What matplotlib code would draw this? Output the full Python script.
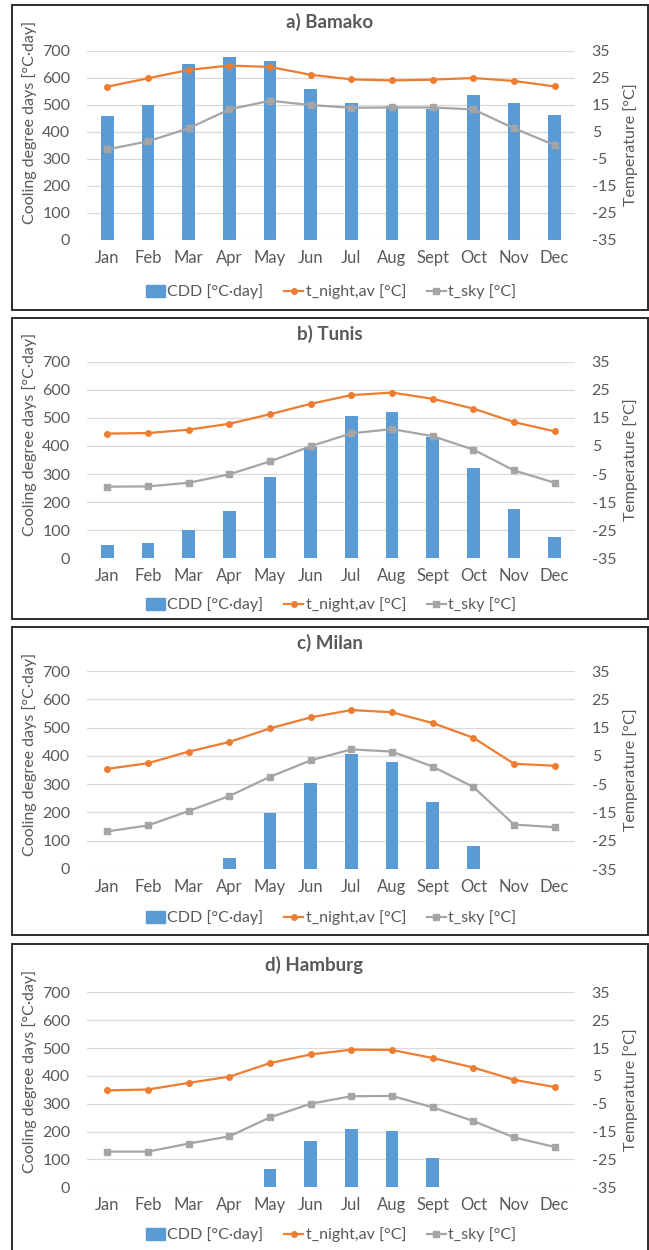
import matplotlib.pyplot as plt
from matplotlib.patches import Rectangle, Patch
from matplotlib.lines import Line2D

plt.rcParams['font.family'] = ['Lato', 'DejaVu Sans']
plt.rcParams['axes.unicode_minus'] = False

months = ['Jan', 'Feb', 'Mar', 'Apr', 'May', 'Jun', 'Jul', 'Aug', 'Sept', 'Oct', 'Nov', 'Dec']
titles = ['a) Bamako', 'b) Tunis', 'c) Milan', 'd) Hamburg']

# cooling degree days [°C·day]
cdd_bamako = [460, 501, 650, 675, 663, 560, 508, 494, 485, 536, 508, 462]
cdd_tunis = [46, 56, 100, 170, 288, 397, 507, 520, 433, 323, 176, 76]
cdd_milan = [0, 0, 0, 40, 197, 303, 405, 378, 238, 80, 0, 0]
cdd_hamburg = [0, 0, 0, 0, 67, 165, 209, 203, 104, 0, 0, 0]

# average night temperature [°C]
tn_bamako = [21.7, 24.8, 27.9, 29.5, 29.0, 26.1, 24.4, 24.0, 24.3, 24.9, 23.8, 21.8]
tn_tunis = [9.4, 9.6, 10.8, 12.9, 16.3, 20.0, 23.1, 24.0, 21.8, 18.3, 13.5, 10.2]
tn_milan = [0.4, 2.4, 6.5, 9.9, 14.7, 18.6, 21.2, 20.4, 16.6, 11.4, 2.2, 1.5]
tn_hamburg = [-0.2, 0.1, 2.5, 4.7, 9.6, 12.7, 14.4, 14.3, 11.4, 8.0, 3.6, 1.0]

# sky temperature [°C]
ts_bamako = [-1.5, 1.5, 6.3, 13.3, 16.5, 14.9, 13.9, 14.0, 14.0, 13.3, 6.3, 0.1]
ts_tunis = [-9.5, -9.4, -8.1, -5.1, -0.5, 4.9, 9.5, 11.0, 8.5, 3.7, -3.7, -8.1]
ts_milan = [-21.7, -19.6, -14.5, -9.2, -2.4, 3.4, 7.3, 6.5, 1.2, -6.0, -19.3, -20.2]
ts_hamburg = [-22.2, -22.2, -19.3, -16.7, -9.9, -5.0, -2.3, -2.2, -6.3, -11.2, -17.1, -20.5]

cdd_all = [cdd_bamako, cdd_tunis, cdd_milan, cdd_hamburg]
tn_all = [tn_bamako, tn_tunis, tn_milan, tn_hamburg]
ts_all = [ts_bamako, ts_tunis, ts_milan, ts_hamburg]

BLUE = '#5B9BD5'
ORANGE = '#ED7D31'
GRAY = '#A5A5A5'
TXT = '#595959'
GRID = '#D9D9D9'

W, H = 649, 1250
fig = plt.figure(figsize=(W / 100, H / 100), dpi=100)


def fx(px):
    return px / W


def fy(py):
    return 1 - py / H


# layout in pixels: box top/bottom, plot top/bottom, title y, legend y, label centres
boxes = [(5, 310), (318, 619), (627, 935), (944, 1262)]
plots = [(50.7, 240), (361.7, 558.3), (671, 869), (992.3, 1187.3)]
title_pos = [(330, 22), (330, 334), (330, 643), (314, 965)]
legend_y = [292, 605, 918, 1235]
ylab_left = [122, 434, 754, 1071]
ylab_right = [145, 460, 770, 1090]

plot_left, plot_right = 87, 575
x = list(range(12))

for i in range(4):
    b0, b1 = boxes[i]
    fig.patches.append(Rectangle((fx(12), fy(b1)), fx(648) - fx(12), fy(b0) - fy(b1),
                                 transform=fig.transFigure, fill=False,
                                 edgecolor='#2b2b2b', linewidth=1.4))

    top, bot = plots[i]
    ax = fig.add_axes([fx(plot_left), fy(bot), (plot_right - plot_left) / W, (bot - top) / H])
    ax.bar(x, cdd_all[i], width=0.31, color=BLUE, zorder=2)
    ax.set_xlim(-0.5, 11.5)
    ax.set_ylim(0, 700)
    ax.set_yticks(range(0, 701, 100))
    ax.set_xticks(x)
    ax.set_xticklabels(months)
    ax.set_axisbelow(True)
    ax.grid(axis='y', color=GRID, linewidth=0.9)
    for s in ax.spines.values():
        s.set_visible(False)
    ax.tick_params(axis='both', length=0, colors=TXT, labelsize=11.5)
    ax.tick_params(axis='y', pad=12)
    ax.tick_params(axis='x', pad=7, labelsize=12)

    ax2 = ax.twinx()
    ax2.plot(x, tn_all[i], color=ORANGE, marker='o', markersize=4, linewidth=1.6)
    ax2.plot(x, ts_all[i], color=GRAY, marker='s', markersize=4, linewidth=1.6)
    ax2.set_ylim(-35, 35)
    ax2.set_yticks(range(-35, 36, 10))
    for s in ax2.spines.values():
        s.set_visible(False)
    ax2.tick_params(axis='y', length=0, colors=TXT, labelsize=11.5, pad=12)

    tx, ty = title_pos[i]
    fig.text(fx(tx), fy(ty), titles[i], ha='center', va='center',
             fontsize=13.5, fontweight='bold', color=TXT)
    fig.text(fx(30), fy(ylab_left[i]), 'Cooling degree days [°C·day]', rotation=90,
             ha='center', va='center', fontsize=11.5, color=TXT)
    fig.text(fx(631), fy(ylab_right[i]), 'Temperature [°C]', rotation=90,
             ha='center', va='center', fontsize=11.5, color=TXT)

    handles = [Patch(color=BLUE),
               Line2D([], [], color=ORANGE, marker='o', markersize=4, linewidth=1.6),
               Line2D([], [], color=GRAY, marker='s', markersize=4, linewidth=1.6)]
    labels = ['CDD [°C·day]', 't_night,av [°C]', 't_sky [°C]']
    leg = fig.legend(handles, labels, loc='center', bbox_to_anchor=(fx(331), fy(legend_y[i])),
                     ncol=3, frameon=False, fontsize=11.5, handlelength=1.2,
                     handleheight=0.8, handletextpad=0.15, columnspacing=1.3)
    for t in leg.get_texts():
        t.set_color(TXT)

fig.savefig('out.png', dpi=100)
